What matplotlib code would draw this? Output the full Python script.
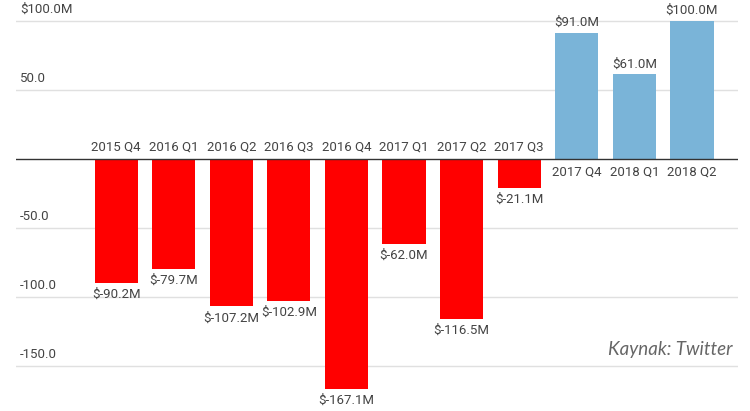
import matplotlib.pyplot as plt
from matplotlib import transforms

plt.rcParams['font.family'] = ['Roboto', 'DejaVu Sans']

quarters = ['2015 Q4', '2016 Q1', '2016 Q2', '2016 Q3', '2016 Q4', '2017 Q1',
            '2017 Q2', '2017 Q3', '2017 Q4', '2018 Q1', '2018 Q2']
net_income = [-90.2, -79.7, -107.2, -102.9, -167.1, -62.0, -116.5, -21.1, 91.0, 61.0, 100.0]
tick_values = [100, 50, -50, -100, -150]
tick_labels = ['$100.0M', '50.0', '-50.0', '-100.0', '-150.0']

RED = '#ff0000'
BLUE = '#7ab4d8'
TXT = '#444444'

fig = plt.figure(figsize=(7.5, 4.11), dpi=100)
ax = fig.add_axes([16 / 750, 11 / 411, 722 / 750, 400 / 411])
ax.set_xlim(-1.74, 10.8)
ax.set_ylim(-175, 115)
ax.axis('off')

# grid
for v, lab in zip(tick_values, tick_labels):
    ax.axhline(v, color='#e0e0e0', lw=1, zorder=0)
    off = transforms.offset_copy(ax.transData, fig=fig, x=3, y=3.5, units='points')
    ax.text(-1.74, v, lab, transform=off, ha='left', va='bottom',
            fontsize=9.5, color=TXT)

xs = list(range(len(quarters)))
colors = [RED if v < 0 else BLUE for v in net_income]
ax.bar(xs, net_income, width=0.75, color=colors, zorder=2)
ax.axhline(0, color='#333333', lw=1, zorder=3)

for x, q, v in zip(xs, quarters, net_income):
    if v < 0:
        ax.annotate(q, (x, 0), xytext=(0, 4), textcoords='offset points',
                    ha='center', va='bottom', fontsize=9.5, color=TXT)
        ax.annotate(f'$-{abs(v):.1f}M', (x, v), xytext=(0, -3.5), textcoords='offset points',
                    ha='center', va='top', fontsize=9.5, color=TXT)
    else:
        ax.annotate(q, (x, 0), xytext=(0, -5), textcoords='offset points',
                    ha='center', va='top', fontsize=9.5, color=TXT)
        ax.annotate(f'${v:.1f}M', (x, v), xytext=(0, 3), textcoords='offset points',
                    ha='center', va='bottom', fontsize=9.5, color=TXT)

fig.text(733 / 750, 1 - 350 / 411, 'Kaynak: Twitter', ha='right', va='center',
         fontsize=13.5, style='italic', color='#666666', family=['Lato', 'DejaVu Sans'])

fig.savefig('out.png', dpi=100, facecolor='white')
